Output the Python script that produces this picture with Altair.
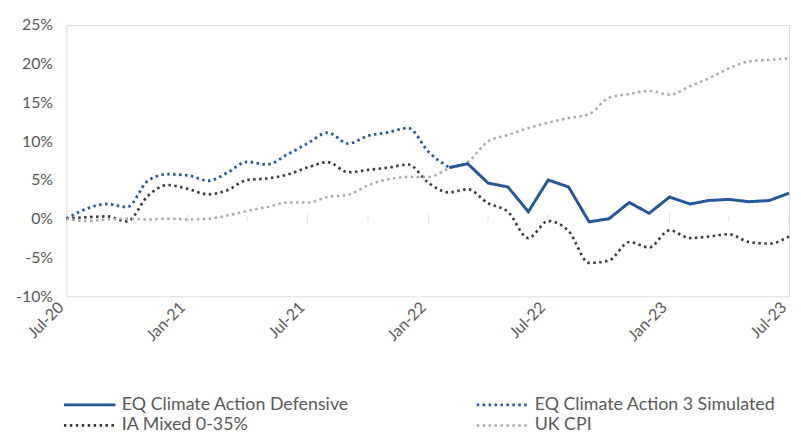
import altair as alt
import pandas as pd

months = pd.date_range("2020-07-01", "2023-07-01", freq="MS").strftime("%Y/%m/%d").tolist()

# values in percent, monthly Jul-20 .. Jul-23
simulated = [0.0, 1.3, 1.9, 1.5, 4.85, 5.75, 5.6, 4.9, 5.9, 7.35, 7.0, 8.3, 9.7, 11.1,
             9.7, 10.7, 11.15, 11.7, 8.6, 6.6]  # Jul-20 .. Feb-22
defensive = [6.6, 7.1, 4.6, 4.1, 0.9, 5.0, 4.1, -0.4, 0.0, 2.1, 0.7, 2.8, 1.9, 2.35,
             2.5, 2.2, 2.35, 3.3]  # Feb-22 .. Jul-23
ia_mixed = [0.0, 0.2, 0.3, -0.35, 2.9, 4.35, 3.85, 3.15, 3.65, 5.0, 5.2, 5.7, 6.6, 7.3,
            6.0, 6.3, 6.6, 7.0, 4.6, 3.4, 3.8, 2.0, 0.9, -2.5, -0.3, -1.6, -5.7, -5.4,
            -3.0, -3.7, -1.5, -2.5, -2.3, -2.0, -3.0, -3.2, -2.3]
uk_cpi = [0.0, -0.3, -0.1, 0.0, -0.1, 0.0, -0.1, 0.0, 0.4, 1.0, 1.5, 2.1, 2.1, 2.8,
          3.1, 4.3, 5.1, 5.4, 5.4, 6.5, 7.3, 10.0, 10.8, 11.7, 12.4, 13.0, 13.5, 15.6,
          16.1, 16.5, 16.0, 17.1, 18.1, 19.4, 20.3, 20.5, 20.7]

names = ["EQ Climate Action Defensive", "EQ Climate Action 3 Simulated",
         "IA Mixed 0-35%", "UK CPI"]
colors = ["#24579a", "#24579a", "#3a3a3a", "#a8a8a8"]
dashes = [[1, 0], [2.5, 3.5], [2.5, 3.5], [2.5, 3.5]]
widths = [3, 2.5, 2.5, 2.5]

y_ticks = [-10, -5, 0, 5, 10, 15, 20, 25]
x_label_months = [(2020, 7), (2021, 1), (2021, 7), (2022, 1), (2022, 7), (2023, 1), (2023, 7)]
major_ticks = [f"{y}/{m:02d}/01" for y, m in x_label_months]
minor_ticks = ["2020/10/01", "2021/04/01", "2021/10/01", "2022/04/01", "2022/10/01", "2023/04/01"]

rows = []
for d, v in zip(months[:len(simulated)], simulated):
    rows.append({"date": d, "value": v, "series": names[1]})
for d, v in zip(months, ia_mixed):
    rows.append({"date": d, "value": v, "series": names[2]})
for d, v in zip(months, uk_cpi):
    rows.append({"date": d, "value": v, "series": names[3]})
dotted_df = pd.DataFrame(rows)
solid_df = pd.DataFrame({"date": months[len(months) - len(defensive):],
                         "value": defensive, "series": names[0]})

FONT = "Lato"
TXT = "#595959"

x_scale = alt.Scale(domain=[alt.DateTime(year=2020, month=7, date=1),
                            alt.DateTime(year=2023, month=7, date=1)])
x_axis = alt.Axis(values=[alt.DateTime(year=y, month=m, date=1) for y, m in x_label_months],
                  format="%b-%y", labelAngle=-45, labelBaseline="bottom", domain=False,
                  ticks=False, grid=False, title=None, labelFontSize=16, labelColor=TXT,
                  labelFont=FONT, labelPadding=14)
x_enc = alt.X("date:T", scale=x_scale, axis=x_axis)

y_scale = alt.Scale(domain=[-10, 25], nice=False)
y_axis = alt.Axis(values=y_ticks, labelExpr="datum.value + '%'", title=None,
                  domain=False, ticks=False, gridColor="#d9d9d9", gridWidth=1.3,
                  labelFontSize=16, labelColor=TXT, labelFont=FONT, labelPadding=14,
                  labelOverlap=False, tickCount=8)
y_enc = alt.Y("value:Q", scale=y_scale, axis=y_axis)

legend = alt.Legend(orient="none", legendX=-4, legendY=375, columns=2, direction="horizontal",
                    title=None, symbolType="stroke", symbolSize=2704, clipHeight=17,
                    labelFontSize=18, labelColor=TXT, labelFont=FONT, labelOffset=5,
                    columnPadding=127, rowPadding=2, labelLimit=0)

enc_common = dict(
    color=alt.Color("series:N", scale=alt.Scale(domain=names, range=colors), legend=legend),
    strokeDash=alt.StrokeDash("series:N", scale=alt.Scale(domain=names, range=dashes), legend=legend),
    strokeWidth=alt.StrokeWidth("series:N", scale=alt.Scale(domain=names, range=widths), legend=legend),
)

dotted = alt.Chart(dotted_df).mark_line(interpolate="monotone").encode(
    x=x_enc, y=y_enc, **enc_common)
solid = alt.Chart(solid_df).mark_line().encode(x=x_enc, y=y_enc, **enc_common)

y_zero = alt.Y(datum=0, type="quantitative", scale=y_scale, axis=y_axis)
major = alt.Chart(pd.DataFrame({"date": major_ticks})).mark_tick(
    orient="vertical", size=9, thickness=1, color="#d0d0d0").encode(
    x=alt.X("date:T", scale=x_scale, axis=x_axis), y=y_zero)
minor = alt.Chart(pd.DataFrame({"date": minor_ticks})).mark_tick(
    orient="vertical", size=5, thickness=1, color="#d0d0d0").encode(
    x=alt.X("date:T", scale=x_scale, axis=x_axis), y=y_zero)

chart = alt.layer(major, minor, dotted, solid).properties(
    width=730, height=274,
    padding={"left": 59, "top": 15, "right": 4, "bottom": 137},
    autosize="none",
).configure_view(stroke="transparent").configure(font=FONT)

chart.save("out.html", embed_options={"renderer": "svg", "actions": False})
